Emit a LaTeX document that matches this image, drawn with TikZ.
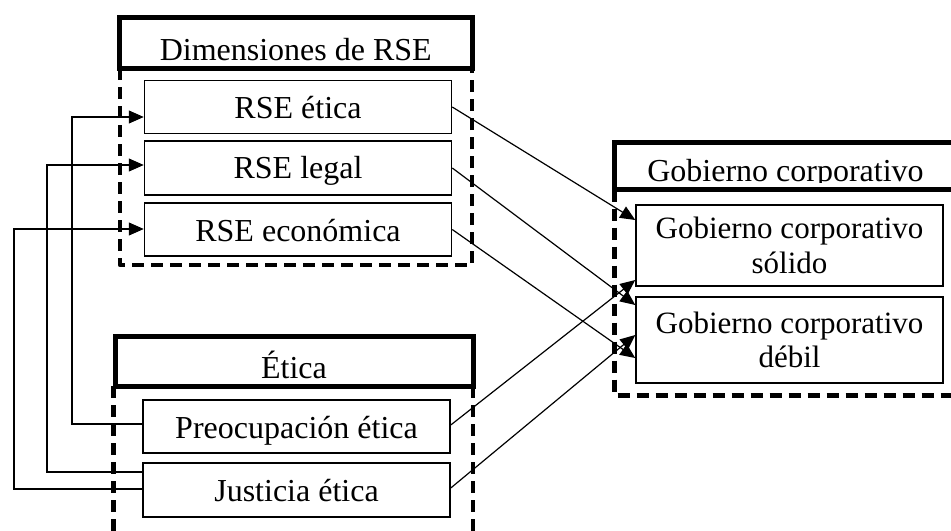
\documentclass[tikz,border=0pt]{standalone}
\usepackage{fontspec}
\setmainfont{Liberation Serif}
\usetikzlibrary{arrows.meta}
\begin{document}
\begin{tikzpicture}[x=0.5pt,y=-0.5pt,
  txt/.style={font=\fontsize{16}{19}\selectfont},
  itembox/.style={draw,line width=0.75pt,minimum width=153.5pt,minimum height=26.5pt,inner sep=0pt,text height=12pt,text depth=0.5pt,txt},
  gcbox/.style={draw,line width=0.75pt,minimum width=153.5pt,inner sep=0pt,align=center,font=\fontsize{15.5}{17.2}\selectfont},
  titlebox/.style={draw,line width=2.5pt,inner sep=0pt,text depth=0pt,txt},
  frame/.style={line width=2.2pt,dash pattern=on 6pt off 3.5pt,line join=round},
  conn/.style={line width=0.6pt},
  arr/.style={conn,-{Triangle[length=7.5pt,width=6.5pt]}}]
\useasboundingbox (0,0) rectangle (951,530);
\clip (0,0) rectangle (951,530);

% group 1: Dimensiones de RSE
\draw[frame] (120,68) -- (120,265) -- (472,265) -- (472,68);
\node[titlebox,minimum width=176.25pt,minimum height=25.25pt,text height=17.5pt] (dimt) at (295.75,42.75) {Dimensiones de RSE};
\node[itembox] (etica) at (298,106.75) {RSE ética};
\node[itembox,minimum height=27pt,text height=11pt] (legal) at (298,168) {RSE legal};
\node[itembox] (econ) at (298,229.5) {RSE económica};

% group 2: Ética
\draw[frame] (113.5,386) -- (113.5,560);
\draw[frame] (473,386) -- (473,560);
\node[titlebox,minimum width=179pt,minimum height=24.75pt,text height=16.8pt] (etit) at (294,361.25) {Ética};
\node[itembox] (preo) at (296.5,426.5) {Preocupación ética};
\node[itembox,minimum height=27pt] (just) at (296.5,490) {Justicia ética};

% group 3: Gobierno corporativo
\draw[frame] (614.5,189.5) -- (614.5,395.5) -- (970,395.5);
\draw[line width=2.5pt] (970,142.5) -- (614.5,142.5) -- (614.5,189.5) -- (970,189.5);
\begin{scope}
  \clip (617,145) rectangle (951,182.5);
  \node[txt,anchor=base,inner sep=0pt] (gct) at (785.5,181) {Gobierno corporativo};
\end{scope}
\node[gcbox,minimum height=40.5pt] (solido) at (789.5,245.5) {Gobierno corporativo\\sólido};
\node[gcbox,minimum height=43pt] (debil) at (789.5,340) {Gobierno corporativo\\débil};

% left feedback connectors
\draw[arr] (preo.west |- 0,424) -| (72,117) -- (etica.west |- 0,117);
\draw[arr] (just.west |- 0,472) -| (47,165) -- (legal.west |- 0,165);
\draw[arr] (just.west |- 0,489) -| (14,229) -- (econ.west |- 0,229);

% diagonal connectors
\draw[arr] (etica.east |- 0,107) -- (solido.west |- 0,220);
\draw[arr] (legal.east) -- (debil.west |- 0,305);
\draw[arr] (econ.east) -- (debil.west |- 0,358);
\draw[arr] (preo.east |- 0,425) -- (solido.west |- 0,280);
\draw[arr] (just.east |- 0,488) -- (debil.west |- 0,335);
\end{tikzpicture}
\end{document}
